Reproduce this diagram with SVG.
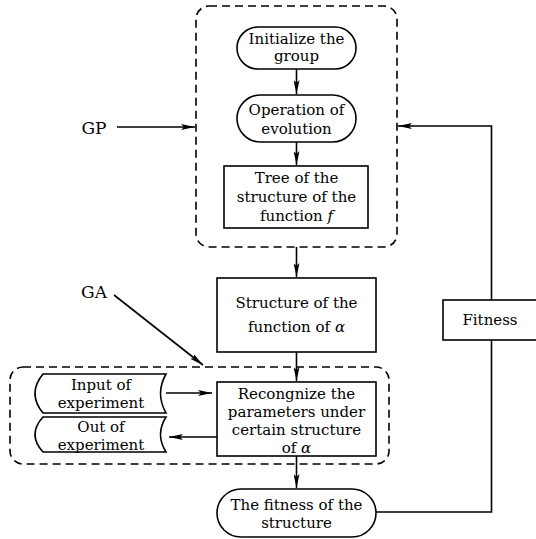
<svg xmlns="http://www.w3.org/2000/svg" width="536" height="539" viewBox="0 0 536 539">
<defs>
<style>
text{font-family:'DejaVu Serif',serif;font-size:15px;fill:#000;text-anchor:middle}
.lbl{font-size:17px}
.n{fill:#fff;stroke:#000;stroke-width:1.6}
.d{fill:none;stroke:#000;stroke-width:1.6;stroke-dasharray:8 5}
.c{fill:none;stroke:#000;stroke-width:1.6}
.a{marker-end:url(#ah)}
</style>
<marker id="ah" viewBox="0 0 14 6" refX="14" refY="3" markerWidth="14" markerHeight="6" markerUnits="userSpaceOnUse" orient="auto">
<path d="M0,0 L14,3 L0,6 L3,3 Z" fill="#000"/>
</marker>
</defs>
<g id="groups">
<rect class="d" x="196" y="6" width="201" height="241" rx="13"/>
<rect class="d" x="10" y="367" width="379" height="97" rx="13"/>
</g>
<g id="connectors">
<path class="c a" d="M296.5,69 V94"/>
<path class="c a" d="M296.5,142 V165"/>
<path class="c a" d="M296.5,247 V277"/>
<path class="c a" d="M296.5,352 V381"/>
<path class="c a" d="M296.5,456 V488"/>
<path class="c a" d="M117,127 H195"/>
<path class="c a" d="M114,295 L203,365"/>
<path class="c a" d="M166,393 H212"/>
<path class="c a" d="M217,437 H169"/>
<path class="c" d="M376,512 H491.5 V340"/>
<path class="c a" d="M491.5,300 V126 H398"/>
</g>
<g id="GP"><text class="lbl" x="94" y="134">GP</text></g>
<g id="GA"><text class="lbl" x="94" y="298">GA</text></g>
<g id="init">
<rect class="n" x="237" y="27" width="119" height="42" rx="21"/>
<text x="296.5" y="44">Initialize the</text>
<text x="296.5" y="61">group</text>
</g>
<g id="evolution">
<rect class="n" x="237" y="95" width="119" height="47" rx="23.5"/>
<text x="296.5" y="115">Operation of</text>
<text x="296.5" y="134">evolution</text>
</g>
<g id="tree">
<rect class="n" x="224" y="166" width="144" height="62"/>
<text x="296.5" y="183">Tree of the</text>
<text x="296.5" y="202">structure of the</text>
<text x="296.5" y="221">function <tspan font-style="italic">f</tspan></text>
</g>
<g id="structure">
<rect class="n" x="217" y="278" width="159" height="74"/>
<text x="296.5" y="308">Structure of the</text>
<text x="296.5" y="332">function of <tspan font-style="italic">α</tspan></text>
</g>
<g id="recognize">
<rect class="n" x="217" y="382" width="159" height="74"/>
<text x="296.5" y="399">Recongnize the</text>
<text x="296.5" y="417">parameters under</text>
<text x="296.5" y="435">certain structure</text>
<text x="296.5" y="453">of <tspan font-style="italic">α</tspan></text>
</g>
<g id="input">
<path class="n" d="M43,374 H166 Q155,393.5 166,413 H43 Q27,393.5 43,374 Z"/>
<text x="101" y="390">Input of</text>
<text x="101" y="408">experiment</text>
</g>
<g id="output">
<path class="n" d="M43,417 H166 Q155,434.5 166,452 H43 Q27,434.5 43,417 Z"/>
<text x="101" y="432">Out of</text>
<text x="101" y="450">experiment</text>
</g>
<g id="fitness-structure">
<rect class="n" x="217" y="489" width="159" height="48" rx="24"/>
<text x="296.5" y="510">The fitness of the</text>
<text x="296.5" y="528">structure</text>
</g>
<g id="fitness">
<rect class="n" x="443" y="300" width="96" height="40"/>
<text x="490" y="325">Fitness</text>
</g>
</svg>
